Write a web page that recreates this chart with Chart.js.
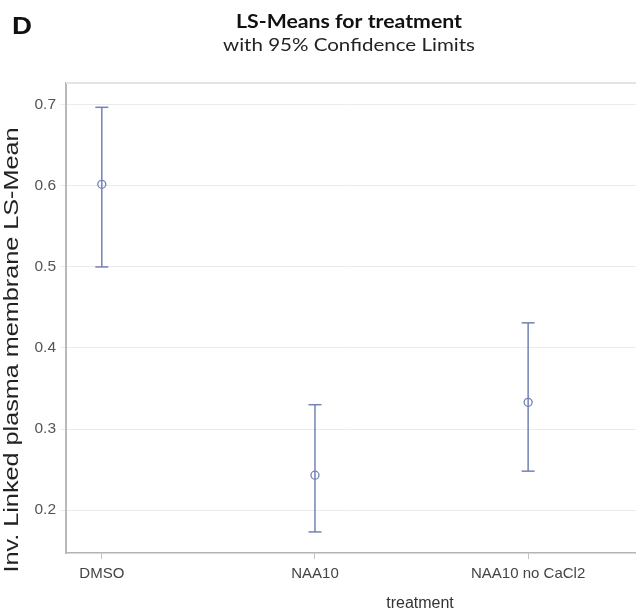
<!DOCTYPE html>
<html>
<head>
<meta charset="utf-8">
<script src="https://cdn.jsdelivr.net/npm/chart.js@4.4.0/dist/chart.umd.min.js"></script>
<style>
  html, body { margin: 0; padding: 0; background: #fff; }
</style>
</head>
<body>
<canvas id="lsChart" width="636" height="615"></canvas>
<script>
// values
const treatments = ["DMSO", "NAA10", "NAA10 no CaCl2"];
const lsMeans = [0.602, 0.243, 0.333];
const lowerCL = [0.500, 0.173, 0.248];
const upperCL = [0.697, 0.330, 0.431];
const yTicks = [0.2, 0.3, 0.4, 0.5, 0.6, 0.7];

const barColor = "#7482b6";

// one small line dataset per treatment for the confidence interval, caps drawn as 'line' points
let ciSets = treatments.map((t, i) => ({
    label: t + " CL",
    data: [{ x: i, y: lowerCL[i] }, { x: i, y: upperCL[i] }],
    showLine: true,
    borderColor: barColor,
    borderWidth: 1.5,
    pointStyle: "line",
    pointRadius: 6.5,
    pointBorderWidth: 1.5,
    pointBorderColor: barColor
}));

let meanSet = {
    label: "LS-Mean",
    data: treatments.map((t, i) => ({ x: i, y: lsMeans[i] })),
    showLine: false,
    pointStyle: "circle",
    pointRadius: 4,
    pointBorderWidth: 1.3,
    pointBorderColor: barColor,
    pointBackgroundColor: "rgba(255,255,255,0)"
};

// draw text squeezed/stretched to a given width (the reference is a bit stretched)
function fitText(ctx, text, x, y, width) {
    const w = ctx.measureText(text).width;
    ctx.save();
    ctx.translate(x, y);
    ctx.scale(width / w, 1);
    ctx.fillText(text, 0, 0);
    ctx.restore();
}

// titles and the axis titles
const textPlugin = {
    id: "texts",
    beforeDatasetsDraw(chart) {
        const { ctx, chartArea } = chart;
        ctx.save();
        ctx.strokeStyle = "#e4e4e4";
        ctx.lineWidth = 2;
        ctx.beginPath();
        ctx.moveTo(chartArea.left, chartArea.top);
        ctx.lineTo(chartArea.right, chartArea.top);
        ctx.stroke();
        ctx.restore();
    },
    afterDraw(chart) {
        const ctx = chart.ctx;
        ctx.save();
        ctx.textBaseline = "middle";

        ctx.fillStyle = "#111";
        ctx.font = "bold 24px 'Liberation Sans'";
        ctx.textAlign = "left";
        fitText(ctx, "D", 12, 27, 20);

        ctx.textAlign = "center";
        ctx.font = "bold 19px Lato";
        fitText(ctx, "LS-Means for treatment", 349, 22, 226);
        ctx.fillStyle = "#222";
        ctx.font = "18px Lato";
        fitText(ctx, "with 95% Confidence Limits", 349, 45, 252);

        ctx.fillStyle = "#333";
        ctx.font = "16px 'Liberation Sans'";
        ctx.fillText("treatment", 420, 604);

        ctx.fillStyle = "#222";
        ctx.font = "20px 'Liberation Sans'";
        ctx.translate(12, 350);
        ctx.rotate(-Math.PI / 2);
        fitText(ctx, "Inv. Linked plasma membrane LS-Mean", 0, 0, 445);
        ctx.restore();
    }
};

function ready() {
    let ctx = document.getElementById("lsChart").getContext("2d");

    new Chart(ctx, {
        type: "scatter",
        data: { datasets: [...ciSets, meanSet] },
        options: {
            responsive: false,
            animation: false,
            layout: { autoPadding: false, padding: { top: 83, left: 0, right: 0, bottom: 0 } },
            plugins: {
                legend: { display: false },
                tooltip: { enabled: false }
            },
            scales: {
                x: {
                    type: "linear",
                    min: -0.168,
                    max: 2.506,
                    afterBuildTicks: axis => { axis.ticks = treatments.map((t, i) => ({ value: i })); },
                    afterFit: axis => { axis.height = 62; },
                    ticks: {
                        callback: v => treatments[v],
                        color: "#444",
                        font: { family: "'Liberation Sans'", size: 15 },
                        padding: 6,
                        maxRotation: 0
                    },
                    grid: {
                        drawOnChartArea: false,
                        color: "#c4c4c4",
                        tickLength: 6
                    },
                    border: { color: "#b4b4b4", width: 1.5 }
                },
                y: {
                    min: 0.147,
                    max: 0.727,
                    afterBuildTicks: axis => { axis.ticks = yTicks.map(v => ({ value: v })); },
                    afterFit: axis => { axis.width = 66; },
                    ticks: {
                        callback: v => v.toFixed(1),
                        color: "#555",
                        font: { family: "'Liberation Sans'", size: 15.5 },
                        padding: 4
                    },
                    grid: {
                        color: "#ebebeb",
                        tickLength: 6
                    },
                    border: { color: "#b8b8b8", width: 2 }
                }
            }
        },
        plugins: [textPlugin]
    });
}

document.addEventListener("DOMContentLoaded", ready);
</script>
</body>
</html>
